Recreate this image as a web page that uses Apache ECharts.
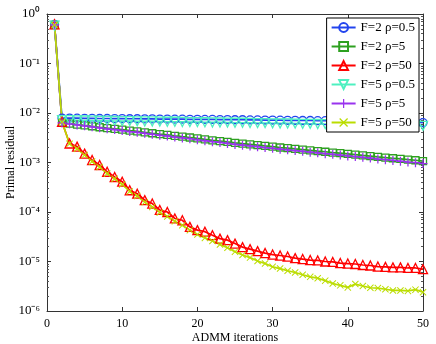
<!DOCTYPE html>
<html>
<head>
<meta charset="utf-8">
<script src="https://cdn.jsdelivr.net/npm/echarts@6/dist/echarts.min.js"></script>
<style>
  html, body { margin: 0; padding: 0; background: #fff; }
  #chart { width: 436px; height: 344px; }
</style>
</head>
<body>
<div id="chart"></div>
<script>
// iterations on the x axis
const iterations = [
  1, 2, 3, 4, 5, 6, 7, 8, 9, 10, 11, 12, 13, 14, 15, 16, 17, 18, 19, 20, 21, 22, 23, 24, 25,
  26, 27, 28, 29, 30, 31, 32, 33, 34, 35, 36, 37, 38, 39, 40, 41, 42, 43, 44, 45, 46, 47, 48, 49, 50
];

// primal residual
const f2rho05 = [
  0.62, 7.9e-3, 7.9e-3, 7.85e-3, 7.8e-3, 7.8e-3, 7.75e-3, 7.75e-3, 7.7e-3, 7.7e-3,
  7.65e-3, 7.65e-3, 7.6e-3, 7.6e-3, 7.55e-3, 7.55e-3, 7.5e-3, 7.5e-3, 7.45e-3, 7.45e-3,
  7.4e-3, 7.4e-3, 7.35e-3, 7.35e-3, 7.3e-3, 7.3e-3, 7.25e-3, 7.25e-3, 7.2e-3, 7.2e-3,
  7.15e-3, 7.1e-3, 7.1e-3, 7.05e-3, 7.05e-3, 7.0e-3, 7.0e-3, 6.95e-3, 6.95e-3, 6.9e-3,
  6.9e-3, 6.85e-3, 6.85e-3, 6.8e-3, 6.8e-3, 6.75e-3, 6.7e-3, 6.7e-3, 6.6e-3, 6.4e-3
];
const f2rho5 = [
  0.60, 6.4e-3, 6.1e-3, 5.85e-3, 5.6e-3, 5.4e-3, 5.15e-3, 4.95e-3, 4.78e-3, 4.6e-3,
  4.4e-3, 4.25e-3, 4.07e-3, 3.9e-3, 3.74e-3, 3.62e-3, 3.46e-3, 3.32e-3, 3.2e-3, 3.06e-3,
  2.93e-3, 2.81e-3, 2.71e-3, 2.6e-3, 2.5e-3, 2.41e-3, 2.33e-3, 2.25e-3, 2.16e-3, 2.09e-3,
  2.01e-3, 1.95e-3, 1.88e-3, 1.82e-3, 1.76e-3, 1.7e-3, 1.65e-3, 1.59e-3, 1.54e-3, 1.49e-3,
  1.44e-3, 1.39e-3, 1.35e-3, 1.3e-3, 1.26e-3, 1.22e-3, 1.18e-3, 1.14e-3, 1.11e-3, 1.07e-3
];
const f2rho50 = [
  0.62, 6.6e-3, 2.42e-3, 2.09e-3, 1.51e-3, 1.12e-3, 8.9e-4, 6.5e-4, 5.1e-4, 4.1e-4,
  2.75e-4, 2.34e-4, 1.74e-4, 1.48e-4, 1.1e-4, 1.0e-4, 7.4e-5, 6.8e-5, 5.0e-5, 4.3e-5,
  4.0e-5, 3.4e-5, 2.9e-5, 2.7e-5, 2.3e-5, 1.95e-5, 1.78e-5, 1.62e-5, 1.48e-5, 1.38e-5,
  1.32e-5, 1.26e-5, 1.17e-5, 1.12e-5, 1.07e-5, 1.05e-5, 1.0e-5, 9.8e-6, 9.3e-6, 9.1e-6,
  8.9e-6, 8.5e-6, 8.3e-6, 7.9e-6, 7.8e-6, 7.6e-6, 7.6e-6, 7.4e-6, 7.4e-6, 7.0e-6
];
const f5rho05 = [
  0.58, 7.2e-3, 7.15e-3, 7.1e-3, 7.05e-3, 7.0e-3, 6.95e-3, 6.95e-3, 6.9e-3, 6.85e-3,
  6.85e-3, 6.8e-3, 6.75e-3, 6.75e-3, 6.7e-3, 6.65e-3, 6.65e-3, 6.6e-3, 6.55e-3, 6.55e-3,
  6.5e-3, 6.45e-3, 6.45e-3, 6.4e-3, 6.35e-3, 6.35e-3, 6.3e-3, 6.25e-3, 6.25e-3, 6.2e-3,
  6.15e-3, 6.15e-3, 6.1e-3, 6.05e-3, 6.05e-3, 6.0e-3, 5.95e-3, 5.95e-3, 5.9e-3, 5.85e-3,
  5.85e-3, 5.8e-3, 5.75e-3, 5.75e-3, 5.7e-3, 5.65e-3, 5.65e-3, 5.6e-3, 5.55e-3, 5.5e-3
];
const f5rho5 = [
  0.60, 6.31e-3, 6.03e-3, 5.75e-3, 5.5e-3, 5.25e-3, 5.01e-3, 4.79e-3, 4.62e-3, 4.42e-3,
  4.22e-3, 4.07e-3, 3.89e-3, 3.72e-3, 3.55e-3, 3.43e-3, 3.27e-3, 3.13e-3, 3.02e-3, 2.88e-3,
  2.75e-3, 2.63e-3, 2.54e-3, 2.43e-3, 2.32e-3, 2.24e-3, 2.16e-3, 2.09e-3, 2.0e-3, 1.93e-3,
  1.86e-3, 1.8e-3, 1.74e-3, 1.68e-3, 1.62e-3, 1.57e-3, 1.51e-3, 1.46e-3, 1.41e-3, 1.36e-3,
  1.32e-3, 1.27e-3, 1.23e-3, 1.17e-3, 1.14e-3, 1.1e-3, 1.06e-3, 1.02e-3, 9.9e-4, 9.5e-4
];
const f5rho50 = [
  0.60, 6.6e-3, 2.4e-3, 1.9e-3, 1.41e-3, 1.05e-3, 8.1e-4, 6.0e-4, 4.7e-4, 3.6e-4,
  2.6e-4, 2.1e-4, 1.58e-4, 1.26e-4, 9.8e-5, 8.1e-5, 6.5e-5, 5.4e-5, 4.3e-5, 3.5e-5,
  3.0e-5, 2.6e-5, 2.2e-5, 1.9e-5, 1.58e-5, 1.35e-5, 1.2e-5, 1.02e-5, 9.1e-6, 7.8e-6,
  7.2e-6, 6.5e-6, 6.0e-6, 5.4e-6, 4.9e-6, 4.6e-6, 4.1e-6, 3.6e-6, 3.3e-6, 3.0e-6,
  3.5e-6, 3.2e-6, 2.95e-6, 2.9e-6, 2.75e-6, 2.6e-6, 2.6e-6, 2.55e-6, 2.7e-6, 2.4e-6
];

const seriesNames = ["F=2 ρ=0.5", "F=2 ρ=5", "F=2 ρ=50", "F=5 ρ=0.5", "F=5 ρ=5", "F=5 ρ=50"];
const xTicks = [0, 10, 20, 30, 40, 50];
// y tick labels, 1e0 .. 1e-6
const yTickLabels = ["10⁰", "10⁻¹", "10⁻²", "10⁻³", "10⁻⁴", "10⁻⁵", "10⁻⁶"];

const FONT = "Liberation Serif";
const downTriangle = "path://M0,0 L10,0 L5,9 Z";
const plusMark = "path://M4.3,0 H5.7 V4.3 H10 V5.7 H5.7 V10 H4.3 V5.7 H0 V4.3 H4.3 Z";
const crossMark = "path://M0,1 L1,0 L5,4 L9,0 L10,1 L6,5 L10,9 L9,10 L5,6 L1,10 L0,9 L4,5 Z";

function makeSeries(name, values, color, symbol, size, hollow) {
  return {
    name: name,
    type: "line",
    data: iterations.map((x, i) => [x, values[i]]),
    color: color,
    symbol: symbol,
    symbolSize: size,
    showAllSymbol: true,
    lineStyle: { color: color, width: 1.7 },
    itemStyle: hollow
      ? { color: "rgba(255,255,255,0)", borderColor: color, borderWidth: 1.3 }
      : { color: color },
    emphasis: { disabled: true },
  };
}

const axisLineStyle = { lineStyle: { color: "#333", width: 1 } };

const chart = echarts.init(document.getElementById("chart"));
chart.setOption({
  animation: false,
  textStyle: { fontFamily: FONT },
  grid: { left: 47, right: 13, top: 14, bottom: 33, containLabel: false, outerBoundsMode: "none" },
  legend: {
    orient: "vertical",
    right: 17,
    top: 18,
    backgroundColor: "#fff",
    borderColor: "#000",
    borderWidth: 1,
    padding: [3, 4, 3, 4],
    itemWidth: 24,
    itemHeight: 11,
    itemGap: 6,
    textStyle: { fontFamily: FONT, fontSize: 13, color: "#000" },
    data: seriesNames,
  },
  xAxis: [
    {
      type: "value",
      min: 0,
      max: 50,
      interval: 10,
      name: "ADMM iterations",
      nameLocation: "middle",
      nameGap: 21,
      nameMoveOverlap: false,
      nameTextStyle: { fontFamily: FONT, fontSize: 12, color: "#000" },
      axisLine: axisLineStyle,
      axisTick: { inside: true, length: 4, lineStyle: { color: "#333" } },
      axisLabel: {
        fontFamily: FONT, fontSize: 12, color: "#000", margin: 7,
        formatter: (v) => (xTicks.indexOf(v) >= 0 ? String(v) : ""),
      },
      splitLine: { show: false },
    },
    {
      type: "value",
      position: "top",
      min: 0,
      max: 50,
      interval: 10,
      axisLine: axisLineStyle,
      axisTick: { inside: true, length: 4, lineStyle: { color: "#333" } },
      axisLabel: { show: false },
      splitLine: { show: false },
    },
  ],
  yAxis: [
    {
      type: "log",
      logBase: 10,
      min: 1e-6,
      max: 1,
      position: "left",
      name: "Primal residual",
      nameLocation: "middle",
      nameGap: 30,
      nameMoveOverlap: false,
      nameTextStyle: { fontFamily: FONT, fontSize: 12, color: "#000" },
      axisLine: { show: true, onZero: false, lineStyle: { color: "#333", width: 1 } },
      axisTick: { inside: true, length: 4, lineStyle: { color: "#333" } },
      minorTick: { show: true, splitNumber: 9, length: 2, lineStyle: { color: "#555" } },
      axisLabel: {
        margin: 7,
        fontFamily: FONT,
        fontSize: 13,
        color: "#000",
        formatter: (v) => yTickLabels[-Math.round(Math.log10(v))] || "",
      },
      splitLine: { show: false },
    },
    {
      type: "log",
      logBase: 10,
      min: 1e-6,
      max: 1,
      position: "right",
      axisLine: { show: true, onZero: false, lineStyle: { color: "#333", width: 1 } },
      axisTick: { inside: true, length: 4, lineStyle: { color: "#333" } },
      minorTick: { show: true, splitNumber: 9, length: 2, lineStyle: { color: "#555" } },
      axisLabel: { show: false },
      splitLine: { show: false },
    },
  ],
  series: [
    makeSeries(seriesNames[0], f2rho05, "#2244ee", "circle", 8, true),
    makeSeries(seriesNames[1], f2rho5, "#2ea020", "rect", 7, true),
    makeSeries(seriesNames[2], f2rho50, "#ff0000", "triangle", 9, true),
    makeSeries(seriesNames[3], f5rho05, "#4ef0c0", downTriangle, 9, true),
    makeSeries(seriesNames[4], f5rho5, "#9933ee", plusMark, 9, false),
    makeSeries(seriesNames[5], f5rho50, "#bbdd00", crossMark, 7, false),
  ],
});
</script>
</body>
</html>
